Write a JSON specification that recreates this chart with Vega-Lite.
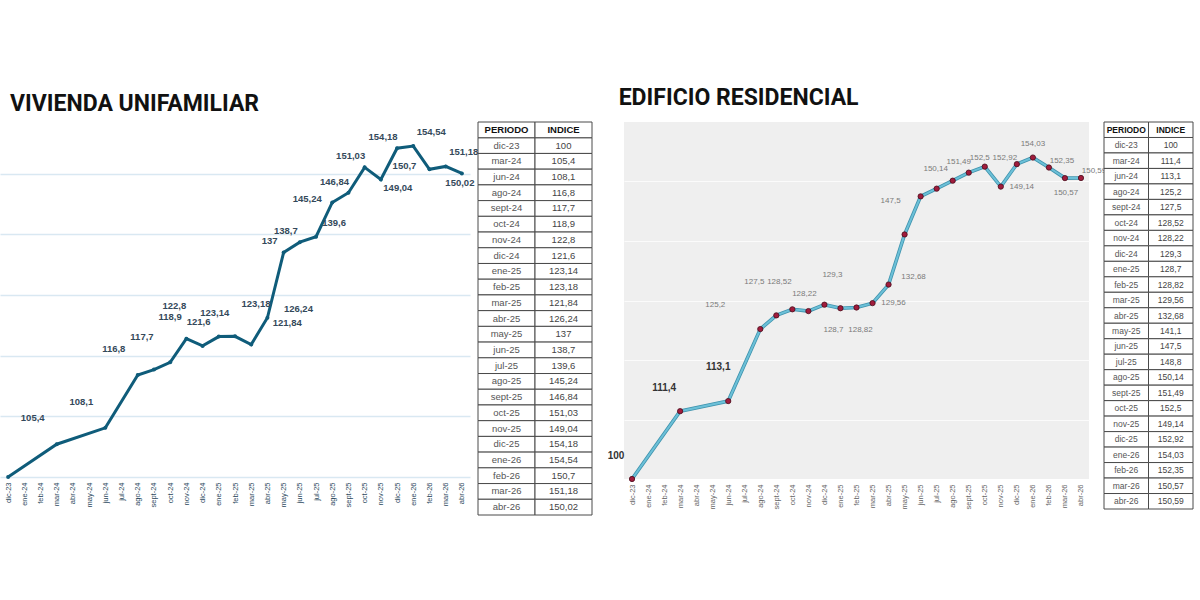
{
  "$schema": "https://vega.github.io/schema/vega-lite/v6.json",
  "background": "white",
  "padding": {"top": 86, "left": 0, "right": 0, "bottom": 0},
  "spacing": 14,
  "datasets": {
    "uni": [
      {"periodo": "dic-23", "indice": 100},
      {"periodo": "mar-24", "indice": 105.4},
      {"periodo": "jun-24", "indice": 108.1},
      {"periodo": "ago-24", "indice": 116.8},
      {"periodo": "sept-24", "indice": 117.7},
      {"periodo": "oct-24", "indice": 118.9},
      {"periodo": "nov-24", "indice": 122.8},
      {"periodo": "dic-24", "indice": 121.6},
      {"periodo": "ene-25", "indice": 123.14},
      {"periodo": "feb-25", "indice": 123.18},
      {"periodo": "mar-25", "indice": 121.84},
      {"periodo": "abr-25", "indice": 126.24},
      {"periodo": "may-25", "indice": 137},
      {"periodo": "jun-25", "indice": 138.7},
      {"periodo": "jul-25", "indice": 139.6},
      {"periodo": "ago-25", "indice": 145.24},
      {"periodo": "sept-25", "indice": 146.84},
      {"periodo": "oct-25", "indice": 151.03},
      {"periodo": "nov-25", "indice": 149.04},
      {"periodo": "dic-25", "indice": 154.18},
      {"periodo": "ene-26", "indice": 154.54},
      {"periodo": "feb-26", "indice": 150.7},
      {"periodo": "mar-26", "indice": 151.18},
      {"periodo": "abr-26", "indice": 150.02}
    ],
    "res": [
      {"periodo": "dic-23", "indice": 100},
      {"periodo": "mar-24", "indice": 111.4},
      {"periodo": "jun-24", "indice": 113.1},
      {"periodo": "ago-24", "indice": 125.2},
      {"periodo": "sept-24", "indice": 127.5},
      {"periodo": "oct-24", "indice": 128.52},
      {"periodo": "nov-24", "indice": 128.22},
      {"periodo": "dic-24", "indice": 129.3},
      {"periodo": "ene-25", "indice": 128.7},
      {"periodo": "feb-25", "indice": 128.82},
      {"periodo": "mar-25", "indice": 129.56},
      {"periodo": "abr-25", "indice": 132.68},
      {"periodo": "may-25", "indice": 141.1},
      {"periodo": "jun-25", "indice": 147.5},
      {"periodo": "jul-25", "indice": 148.8},
      {"periodo": "ago-25", "indice": 150.14},
      {"periodo": "sept-25", "indice": 151.49},
      {"periodo": "oct-25", "indice": 152.5},
      {"periodo": "nov-25", "indice": 149.14},
      {"periodo": "dic-25", "indice": 152.92},
      {"periodo": "ene-26", "indice": 154.03},
      {"periodo": "feb-26", "indice": 152.35},
      {"periodo": "mar-26", "indice": 150.57},
      {"periodo": "abr-26", "indice": 150.59}
    ],
    "header": [{"h": "PERIODO"}, {"h": "INDICE"}]
  },
  "hconcat": [
    {
      "title": {"text": "VIVIENDA UNIFAMILIAR", "anchor": "start", "fontSize": 23, "font": "Roboto", "fontWeight": "bold", "color": "#111111", "dx": 10, "offset": 6},
      "spacing": 8,
      "bounds": "flush",
      "hconcat": [
        {
          "width": 470,
          "height": 355,
          "data": {"name": "uni"},
          "encoding": {
            "x": {"field": "periodo", "type": "ordinal", "scale": {"type": "point", "padding": 0.5, "domain": ["dic-23","ene-24","feb-24","mar-24","abr-24","may-24","jun-24","jul-24","ago-24","sept-24","oct-24","nov-24","dic-24","ene-25","feb-25","mar-25","abr-25","may-25","jun-25","jul-25","ago-25","sept-25","oct-25","nov-25","dic-25","ene-26","feb-26","mar-26","abr-26"]},
              "axis": {"title": null, "labelAngle": -90, "labelFontSize": 7.5, "labelColor": "#2d4a5e", "ticks": false, "domain": false, "labelPadding": 5, "grid": false}},
            "y": {"field": "indice", "type": "quantitative", "scale": {"domain": [100, 158.5], "nice": false, "zero": false},
              "axis": {"title": null, "labels": false, "ticks": false, "domain": false, "grid": true, "gridColor": "#d9e8f2", "gridWidth": 1.5, "values": [100, 110, 120, 130, 140, 150]}}
          },
          "layer": [
            {"mark": {"type": "line", "color": "#0f5c7a", "strokeWidth": 3}},
            {"mark": {"type": "circle", "color": "#0f5c7a", "size": 16, "opacity": 1}},
            {"transform": [{"filter": {"field": "periodo", "oneOf": ["mar-24", "jun-24", "ago-24"]}}],
             "mark": {"type": "text", "dx": -24, "dy": -26, "fontSize": 9.5, "fontWeight": "bold", "color": "#34495a"},
             "encoding": {"text": {"field": "indice", "type": "quantitative", "format": ".2~f"}}},
            {"transform": [{"filter": {"field": "periodo", "oneOf": ["sept-24", "nov-24"]}}],
             "mark": {"type": "text", "dx": -12, "dy": -33, "fontSize": 9.5, "fontWeight": "bold", "color": "#34495a"},
             "encoding": {"text": {"field": "indice", "type": "quantitative", "format": ".2~f"}}},
            {"transform": [{"filter": {"field": "periodo", "oneOf": ["oct-24"]}}],
             "mark": {"type": "text", "dx": 0, "dy": -45, "fontSize": 9.5, "fontWeight": "bold", "color": "#34495a"},
             "encoding": {"text": {"field": "indice", "type": "quantitative", "format": ".2~f"}}},
            {"transform": [{"filter": {"field": "periodo", "oneOf": ["dic-24", "ene-25"]}}],
             "mark": {"type": "text", "dx": -4, "dy": -24, "fontSize": 9.5, "fontWeight": "bold", "color": "#34495a"},
             "encoding": {"text": {"field": "indice", "type": "quantitative", "format": ".2~f"}}},
            {"transform": [{"filter": {"field": "periodo", "oneOf": ["feb-25"]}}],
             "mark": {"type": "text", "dx": 21, "dy": -32, "fontSize": 9.5, "fontWeight": "bold", "color": "#34495a"},
             "encoding": {"text": {"field": "indice", "type": "quantitative", "format": ".2~f"}}},
            {"transform": [{"filter": {"field": "periodo", "oneOf": ["mar-25"]}}],
             "mark": {"type": "text", "dx": 36, "dy": -21, "fontSize": 9.5, "fontWeight": "bold", "color": "#34495a"},
             "encoding": {"text": {"field": "indice", "type": "quantitative", "format": ".2~f"}}},
            {"transform": [{"filter": {"field": "periodo", "oneOf": ["abr-25"]}}],
             "mark": {"type": "text", "dx": 31, "dy": -9, "fontSize": 9.5, "fontWeight": "bold", "color": "#34495a"},
             "encoding": {"text": {"field": "indice", "type": "quantitative", "format": ".2~f"}}},
            {"transform": [{"filter": {"field": "periodo", "oneOf": ["may-25", "jun-25", "sept-25", "oct-25", "dic-25"]}}],
             "mark": {"type": "text", "dx": -14, "dy": -11, "fontSize": 9.5, "fontWeight": "bold", "color": "#34495a"},
             "encoding": {"text": {"field": "indice", "type": "quantitative", "format": ".2~f"}}},
            {"transform": [{"filter": {"field": "periodo", "oneOf": ["jul-25", "ene-26", "mar-26"]}}],
             "mark": {"type": "text", "dx": 18, "dy": -14, "fontSize": 9.5, "fontWeight": "bold", "color": "#34495a"},
             "encoding": {"text": {"field": "indice", "type": "quantitative", "format": ".2~f"}}},
            {"transform": [{"filter": {"field": "periodo", "oneOf": ["ago-25", "feb-26"]}}],
             "mark": {"type": "text", "dx": -25, "dy": -3, "fontSize": 9.5, "fontWeight": "bold", "color": "#34495a"},
             "encoding": {"text": {"field": "indice", "type": "quantitative", "format": ".2~f"}}},
            {"transform": [{"filter": {"field": "periodo", "oneOf": ["nov-25"]}}],
             "mark": {"type": "text", "dx": 17, "dy": 9, "fontSize": 9.5, "fontWeight": "bold", "color": "#34495a"},
             "encoding": {"text": {"field": "indice", "type": "quantitative", "format": ".2~f"}}},
            {"transform": [{"filter": {"field": "periodo", "oneOf": ["abr-26"]}}],
             "mark": {"type": "text", "dx": -2, "dy": 10, "fontSize": 9.5, "fontWeight": "bold", "color": "#34495a"},
             "encoding": {"text": {"field": "indice", "type": "quantitative", "format": ".2~f"}}}
          ]
        },
        {
          "width": 114,
          "height": 393,
          "layer": [
            {"data": {"name": "uni"}, "mark": {"type": "rect", "fill": "white", "stroke": "#4a4a4a", "strokeWidth": 1},
             "encoding": {
               "x": {"datum": "PERIODO", "type": "nominal", "scale": {"type": "band", "domain": ["PERIODO", "INDICE"], "paddingInner": 0, "paddingOuter": 0}, "axis": null},
               "y": {"field": "periodo", "type": "nominal", "scale": {"type": "band", "paddingInner": 0, "paddingOuter": 0, "domain": ["hdr","dic-23","mar-24","jun-24","ago-24","sept-24","oct-24","nov-24","dic-24","ene-25","feb-25","mar-25","abr-25","may-25","jun-25","jul-25","ago-25","sept-25","oct-25","nov-25","dic-25","ene-26","feb-26","mar-26","abr-26"]}, "axis": null}}},
            {"data": {"name": "uni"}, "mark": {"type": "rect", "fill": "white", "stroke": "#4a4a4a", "strokeWidth": 1},
             "encoding": {
               "x": {"datum": "INDICE", "type": "nominal", "scale": {"type": "band", "domain": ["PERIODO", "INDICE"], "paddingInner": 0, "paddingOuter": 0}, "axis": null},
               "y": {"field": "periodo", "type": "nominal", "scale": {"type": "band", "paddingInner": 0, "paddingOuter": 0, "domain": ["hdr","dic-23","mar-24","jun-24","ago-24","sept-24","oct-24","nov-24","dic-24","ene-25","feb-25","mar-25","abr-25","may-25","jun-25","jul-25","ago-25","sept-25","oct-25","nov-25","dic-25","ene-26","feb-26","mar-26","abr-26"]}, "axis": null}}},
            {"data": {"name": "header"}, "mark": {"type": "rect", "fill": "white", "stroke": "#4a4a4a", "strokeWidth": 1},
             "encoding": {
               "x": {"field": "h", "type": "nominal", "scale": {"type": "band", "domain": ["PERIODO", "INDICE"], "paddingInner": 0, "paddingOuter": 0}, "axis": null},
               "y": {"datum": "hdr", "type": "nominal", "scale": {"type": "band", "paddingInner": 0, "paddingOuter": 0, "domain": ["hdr","dic-23","mar-24","jun-24","ago-24","sept-24","oct-24","nov-24","dic-24","ene-25","feb-25","mar-25","abr-25","may-25","jun-25","jul-25","ago-25","sept-25","oct-25","nov-25","dic-25","ene-26","feb-26","mar-26","abr-26"]}, "axis": null}}},
            {"data": {"name": "uni"}, "mark": {"type": "text", "fontSize": 9.5, "color": "#555555"},
             "encoding": {
               "x": {"datum": "PERIODO", "type": "nominal", "scale": {"type": "band", "domain": ["PERIODO", "INDICE"], "paddingInner": 0, "paddingOuter": 0}, "axis": null},
               "y": {"field": "periodo", "type": "nominal", "scale": {"type": "band", "paddingInner": 0, "paddingOuter": 0, "domain": ["hdr","dic-23","mar-24","jun-24","ago-24","sept-24","oct-24","nov-24","dic-24","ene-25","feb-25","mar-25","abr-25","may-25","jun-25","jul-25","ago-25","sept-25","oct-25","nov-25","dic-25","ene-26","feb-26","mar-26","abr-26"]}, "axis": null},
               "text": {"field": "periodo", "type": "nominal"}}},
            {"data": {"name": "uni"}, "mark": {"type": "text", "fontSize": 9.5, "color": "#444444"},
             "encoding": {
               "x": {"datum": "INDICE", "type": "nominal", "scale": {"type": "band", "domain": ["PERIODO", "INDICE"], "paddingInner": 0, "paddingOuter": 0}, "axis": null},
               "y": {"field": "periodo", "type": "nominal", "scale": {"type": "band", "paddingInner": 0, "paddingOuter": 0, "domain": ["hdr","dic-23","mar-24","jun-24","ago-24","sept-24","oct-24","nov-24","dic-24","ene-25","feb-25","mar-25","abr-25","may-25","jun-25","jul-25","ago-25","sept-25","oct-25","nov-25","dic-25","ene-26","feb-26","mar-26","abr-26"]}, "axis": null},
               "text": {"field": "indice", "type": "quantitative", "format": ".2~f"}}},
            {"data": {"name": "header"}, "mark": {"type": "text", "fontSize": 9.5, "fontWeight": "bold", "color": "#111111"},
             "encoding": {
               "x": {"field": "h", "type": "nominal", "scale": {"type": "band", "domain": ["PERIODO", "INDICE"], "paddingInner": 0, "paddingOuter": 0}, "axis": null},
               "y": {"datum": "hdr", "type": "nominal", "scale": {"type": "band", "paddingInner": 0, "paddingOuter": 0, "domain": ["hdr","dic-23","mar-24","jun-24","ago-24","sept-24","oct-24","nov-24","dic-24","ene-25","feb-25","mar-25","abr-25","may-25","jun-25","jul-25","ago-25","sept-25","oct-25","nov-25","dic-25","ene-26","feb-26","mar-26","abr-26"]}, "axis": null},
               "text": {"field": "h", "type": "nominal"}}}
          ]
        }
      ]
    },
    {
      "title": {"text": "EDIFICIO RESIDENCIAL", "anchor": "start", "fontSize": 23, "font": "Roboto", "fontWeight": "bold", "color": "#111111", "dx": 11, "offset": 12},
      "spacing": 15,
      "bounds": "flush",
      "hconcat": [
        {
          "width": 465,
          "height": 357,
          "view": {"fill": "#efefef", "stroke": null},
          "data": {"name": "res"},
          "encoding": {
            "x": {"field": "periodo", "type": "ordinal", "scale": {"type": "point", "padding": 0.5, "domain": ["dic-23","ene-24","feb-24","mar-24","abr-24","may-24","jun-24","jul-24","ago-24","sept-24","oct-24","nov-24","dic-24","ene-25","feb-25","mar-25","abr-25","may-25","jun-25","jul-25","ago-25","sept-25","oct-25","nov-25","dic-25","ene-26","feb-26","mar-26","abr-26"]},
              "axis": {"title": null, "labelAngle": -90, "labelFontSize": 7.5, "labelColor": "#666666", "ticks": false, "domain": false, "labelPadding": 5, "grid": false}},
            "y": {"field": "indice", "type": "quantitative", "scale": {"domain": [100, 160], "nice": false, "zero": false},
              "axis": {"title": null, "labels": false, "ticks": false, "domain": false, "grid": true, "gridColor": "#fbfbfb", "gridWidth": 1, "values": [110, 120, 130, 140, 150]}}
          },
          "layer": [
            {"mark": {"type": "line", "color": "#3f93ad", "strokeWidth": 3.6}},
            {"mark": {"type": "line", "color": "#6cc0d8", "strokeWidth": 2}},
            {"mark": {"type": "circle", "color": "#a01c3c", "stroke": "#4a0d1c", "strokeWidth": 0.8, "size": 28, "opacity": 1}},
            {"transform": [{"filter": {"field": "periodo", "oneOf": ["dic-23", "mar-24"]}}],
             "mark": {"type": "text", "dx": -16, "dy": -23, "fontSize": 10, "fontWeight": "bold", "color": "#333333"},
             "encoding": {"text": {"field": "indice", "type": "quantitative", "format": ".2~f"}}},
            {"transform": [{"filter": {"field": "periodo", "oneOf": ["jun-24"]}}],
             "mark": {"type": "text", "dx": -10, "dy": -34, "fontSize": 10, "fontWeight": "bold", "color": "#333333"},
             "encoding": {"text": {"field": "indice", "type": "quantitative", "format": ".2~f"}}},
            {"transform": [{"filter": {"field": "periodo", "oneOf": ["ago-24"]}}],
             "mark": {"type": "text", "dx": -45, "dy": -24, "fontSize": 8, "color": "#7a7a7a"},
             "encoding": {"text": {"field": "indice", "type": "quantitative", "format": ".2~f"}}},
            {"transform": [{"filter": {"field": "periodo", "oneOf": ["sept-24"]}}],
             "mark": {"type": "text", "dx": -22, "dy": -33, "fontSize": 8, "color": "#7a7a7a"},
             "encoding": {"text": {"field": "indice", "type": "quantitative", "format": ".2~f"}}},
            {"transform": [{"filter": {"field": "periodo", "oneOf": ["oct-24"]}}],
             "mark": {"type": "text", "dx": -13, "dy": -27, "fontSize": 8, "color": "#7a7a7a"},
             "encoding": {"text": {"field": "indice", "type": "quantitative", "format": ".2~f"}}},
            {"transform": [{"filter": {"field": "periodo", "oneOf": ["nov-24"]}}],
             "mark": {"type": "text", "dx": -4, "dy": -17, "fontSize": 8, "color": "#7a7a7a"},
             "encoding": {"text": {"field": "indice", "type": "quantitative", "format": ".2~f"}}},
            {"transform": [{"filter": {"field": "periodo", "oneOf": ["dic-24"]}}],
             "mark": {"type": "text", "dx": 8, "dy": -30, "fontSize": 8, "color": "#7a7a7a"},
             "encoding": {"text": {"field": "indice", "type": "quantitative", "format": ".2~f"}}},
            {"transform": [{"filter": {"field": "periodo", "oneOf": ["ene-25"]}}],
             "mark": {"type": "text", "dx": -7, "dy": 22, "fontSize": 8, "color": "#7a7a7a"},
             "encoding": {"text": {"field": "indice", "type": "quantitative", "format": ".2~f"}}},
            {"transform": [{"filter": {"field": "periodo", "oneOf": ["feb-25"]}}],
             "mark": {"type": "text", "dx": 4, "dy": 22, "fontSize": 8, "color": "#7a7a7a"},
             "encoding": {"text": {"field": "indice", "type": "quantitative", "format": ".2~f"}}},
            {"transform": [{"filter": {"field": "periodo", "oneOf": ["mar-25", "nov-25"]}}],
             "mark": {"type": "text", "dx": 21, "dy": 0, "fontSize": 8, "color": "#7a7a7a"},
             "encoding": {"text": {"field": "indice", "type": "quantitative", "format": ".2~f"}}},
            {"transform": [{"filter": {"field": "periodo", "oneOf": ["abr-25"]}}],
             "mark": {"type": "text", "dx": 25, "dy": -8, "fontSize": 8, "color": "#7a7a7a"},
             "encoding": {"text": {"field": "indice", "type": "quantitative", "format": ".2~f"}}},
            {"transform": [{"filter": {"field": "periodo", "oneOf": ["jun-25"]}}],
             "mark": {"type": "text", "dx": -30, "dy": 5, "fontSize": 8, "color": "#7a7a7a"},
             "encoding": {"text": {"field": "indice", "type": "quantitative", "format": ".2~f"}}},
            {"transform": [{"filter": {"field": "periodo", "oneOf": ["ago-25"]}}],
             "mark": {"type": "text", "dx": -17, "dy": -12, "fontSize": 8, "color": "#7a7a7a"},
             "encoding": {"text": {"field": "indice", "type": "quantitative", "format": ".2~f"}}},
            {"transform": [{"filter": {"field": "periodo", "oneOf": ["sept-25"]}}],
             "mark": {"type": "text", "dx": -10, "dy": -11, "fontSize": 8, "color": "#7a7a7a"},
             "encoding": {"text": {"field": "indice", "type": "quantitative", "format": ".2~f"}}},
            {"transform": [{"filter": {"field": "periodo", "oneOf": ["oct-25"]}}],
             "mark": {"type": "text", "dx": -5, "dy": -9, "fontSize": 8, "color": "#7a7a7a"},
             "encoding": {"text": {"field": "indice", "type": "quantitative", "format": ".2~f"}}},
            {"transform": [{"filter": {"field": "periodo", "oneOf": ["dic-25"]}}],
             "mark": {"type": "text", "dx": -12, "dy": -6, "fontSize": 8, "color": "#7a7a7a"},
             "encoding": {"text": {"field": "indice", "type": "quantitative", "format": ".2~f"}}},
            {"transform": [{"filter": {"field": "periodo", "oneOf": ["ene-26"]}}],
             "mark": {"type": "text", "dx": 0, "dy": -14, "fontSize": 8, "color": "#7a7a7a"},
             "encoding": {"text": {"field": "indice", "type": "quantitative", "format": ".2~f"}}},
            {"transform": [{"filter": {"field": "periodo", "oneOf": ["feb-26", "abr-26"]}}],
             "mark": {"type": "text", "dx": 13, "dy": -7, "fontSize": 8, "color": "#7a7a7a"},
             "encoding": {"text": {"field": "indice", "type": "quantitative", "format": ".2~f"}}},
            {"transform": [{"filter": {"field": "periodo", "oneOf": ["mar-26"]}}],
             "mark": {"type": "text", "dx": 1, "dy": 15, "fontSize": 8, "color": "#7a7a7a"},
             "encoding": {"text": {"field": "indice", "type": "quantitative", "format": ".2~f"}}}
          ]
        },
        {
          "width": 89,
          "height": 387,
          "layer": [
            {"data": {"name": "res"}, "mark": {"type": "rect", "fill": "white", "stroke": "#4a4a4a", "strokeWidth": 1},
             "encoding": {
               "x": {"datum": "PERIODO", "type": "nominal", "scale": {"type": "band", "domain": ["PERIODO", "INDICE"], "paddingInner": 0, "paddingOuter": 0}, "axis": null},
               "y": {"field": "periodo", "type": "nominal", "scale": {"type": "band", "paddingInner": 0, "paddingOuter": 0, "domain": ["hdr","dic-23","mar-24","jun-24","ago-24","sept-24","oct-24","nov-24","dic-24","ene-25","feb-25","mar-25","abr-25","may-25","jun-25","jul-25","ago-25","sept-25","oct-25","nov-25","dic-25","ene-26","feb-26","mar-26","abr-26"]}, "axis": null}}},
            {"data": {"name": "res"}, "mark": {"type": "rect", "fill": "white", "stroke": "#4a4a4a", "strokeWidth": 1},
             "encoding": {
               "x": {"datum": "INDICE", "type": "nominal", "scale": {"type": "band", "domain": ["PERIODO", "INDICE"], "paddingInner": 0, "paddingOuter": 0}, "axis": null},
               "y": {"field": "periodo", "type": "nominal", "scale": {"type": "band", "paddingInner": 0, "paddingOuter": 0, "domain": ["hdr","dic-23","mar-24","jun-24","ago-24","sept-24","oct-24","nov-24","dic-24","ene-25","feb-25","mar-25","abr-25","may-25","jun-25","jul-25","ago-25","sept-25","oct-25","nov-25","dic-25","ene-26","feb-26","mar-26","abr-26"]}, "axis": null}}},
            {"data": {"name": "header"}, "mark": {"type": "rect", "fill": "white", "stroke": "#4a4a4a", "strokeWidth": 1},
             "encoding": {
               "x": {"field": "h", "type": "nominal", "scale": {"type": "band", "domain": ["PERIODO", "INDICE"], "paddingInner": 0, "paddingOuter": 0}, "axis": null},
               "y": {"datum": "hdr", "type": "nominal", "scale": {"type": "band", "paddingInner": 0, "paddingOuter": 0, "domain": ["hdr","dic-23","mar-24","jun-24","ago-24","sept-24","oct-24","nov-24","dic-24","ene-25","feb-25","mar-25","abr-25","may-25","jun-25","jul-25","ago-25","sept-25","oct-25","nov-25","dic-25","ene-26","feb-26","mar-26","abr-26"]}, "axis": null}}},
            {"data": {"name": "res"}, "mark": {"type": "text", "fontSize": 8.5, "color": "#555555"},
             "encoding": {
               "x": {"datum": "PERIODO", "type": "nominal", "scale": {"type": "band", "domain": ["PERIODO", "INDICE"], "paddingInner": 0, "paddingOuter": 0}, "axis": null},
               "y": {"field": "periodo", "type": "nominal", "scale": {"type": "band", "paddingInner": 0, "paddingOuter": 0, "domain": ["hdr","dic-23","mar-24","jun-24","ago-24","sept-24","oct-24","nov-24","dic-24","ene-25","feb-25","mar-25","abr-25","may-25","jun-25","jul-25","ago-25","sept-25","oct-25","nov-25","dic-25","ene-26","feb-26","mar-26","abr-26"]}, "axis": null},
               "text": {"field": "periodo", "type": "nominal"}}},
            {"data": {"name": "res"}, "mark": {"type": "text", "fontSize": 8.5, "color": "#444444"},
             "encoding": {
               "x": {"datum": "INDICE", "type": "nominal", "scale": {"type": "band", "domain": ["PERIODO", "INDICE"], "paddingInner": 0, "paddingOuter": 0}, "axis": null},
               "y": {"field": "periodo", "type": "nominal", "scale": {"type": "band", "paddingInner": 0, "paddingOuter": 0, "domain": ["hdr","dic-23","mar-24","jun-24","ago-24","sept-24","oct-24","nov-24","dic-24","ene-25","feb-25","mar-25","abr-25","may-25","jun-25","jul-25","ago-25","sept-25","oct-25","nov-25","dic-25","ene-26","feb-26","mar-26","abr-26"]}, "axis": null},
               "text": {"field": "indice", "type": "quantitative", "format": ".2~f"}}},
            {"data": {"name": "header"}, "mark": {"type": "text", "fontSize": 8.5, "fontWeight": "bold", "color": "#111111"},
             "encoding": {
               "x": {"field": "h", "type": "nominal", "scale": {"type": "band", "domain": ["PERIODO", "INDICE"], "paddingInner": 0, "paddingOuter": 0}, "axis": null},
               "y": {"datum": "hdr", "type": "nominal", "scale": {"type": "band", "paddingInner": 0, "paddingOuter": 0, "domain": ["hdr","dic-23","mar-24","jun-24","ago-24","sept-24","oct-24","nov-24","dic-24","ene-25","feb-25","mar-25","abr-25","may-25","jun-25","jul-25","ago-25","sept-25","oct-25","nov-25","dic-25","ene-26","feb-26","mar-26","abr-26"]}, "axis": null},
               "text": {"field": "h", "type": "nominal"}}}
          ]
        }
      ]
    }
  ],
  "config": {
    "view": {"stroke": null},
    "font": "Liberation Sans",
    "locale": {"number": {"decimal": ",", "thousands": ".", "grouping": [3], "currency": ["", " €"]}}
  }
}
